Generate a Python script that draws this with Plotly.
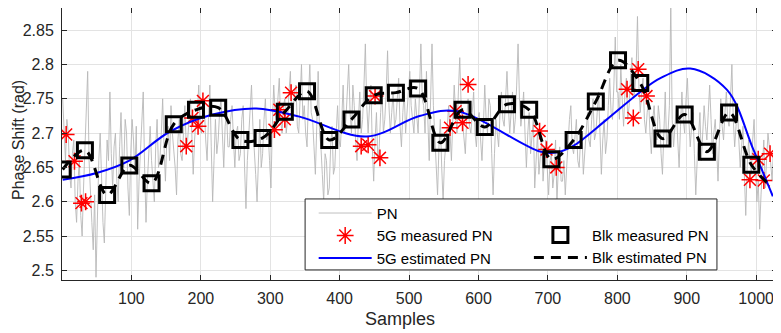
import plotly.graph_objects as go

# gray PN trace, every 2nd sample
pn_x = list(range(1, 1026, 2))
pn_y = [
    2.75, 2.70, 2.66, 2.72, 2.70, 2.64, 2.62, 2.67, 2.69, 2.60, 2.57, 2.63, 2.66, 2.58, 2.55, 2.62, 2.68, 2.71, 2.79, 2.66,
    2.60, 2.57, 2.53, 2.61, 2.49, 2.58, 2.66, 2.70, 2.62, 2.57, 2.54, 2.64, 2.69, 2.66, 2.76, 2.67, 2.62, 2.68, 2.70, 2.63,
    2.60, 2.68, 2.73, 2.66, 2.65, 2.72, 2.70, 2.62, 2.58, 2.67, 2.72, 2.69, 2.64, 2.71, 2.56, 2.63, 2.68, 2.72, 2.76, 2.65,
    2.57, 2.63, 2.68, 2.71, 2.66, 2.62, 2.60, 2.68, 2.72, 2.65, 2.66, 2.70, 2.75, 2.68, 2.63, 2.69, 2.71, 2.66, 2.74, 2.70,
    2.68, 2.65, 2.61, 2.69, 2.72, 2.67, 2.66, 2.71, 2.74, 2.68, 2.69, 2.72, 2.75, 2.70, 2.64, 2.69, 2.72, 2.73, 2.77, 2.71,
    2.70, 2.73, 2.74, 2.69, 2.66, 2.72, 2.77, 2.68, 2.60, 2.66, 2.72, 2.67, 2.69, 2.73, 2.75, 2.70, 2.65, 2.71, 2.73, 2.68,
    2.68, 2.72, 2.74, 2.69, 2.65, 2.70, 2.71, 2.66, 2.67, 2.72, 2.74, 2.65, 2.59, 2.66, 2.70, 2.74, 2.77, 2.71, 2.68, 2.64,
    2.60, 2.67, 2.72, 2.65, 2.67, 2.72, 2.75, 2.69, 2.70, 2.66, 2.62, 2.71, 2.77, 2.73, 2.71, 2.75, 2.78, 2.72, 2.70, 2.74,
    2.75, 2.70, 2.72, 2.76, 2.79, 2.72, 2.73, 2.76, 2.77, 2.71, 2.70, 2.75, 2.80, 2.72, 2.74, 2.70, 2.68, 2.75, 2.80, 2.73,
    2.72, 2.68, 2.64, 2.71, 2.79, 2.70, 2.68, 2.64, 2.60, 2.67, 2.66, 2.61, 2.62, 2.68, 2.71, 2.64, 2.65, 2.70, 2.74, 2.69,
    2.68, 2.72, 2.77, 2.70, 2.72, 2.76, 2.80, 2.73, 2.70, 2.77, 2.74, 2.69, 2.66, 2.72, 2.76, 2.70, 2.72, 2.77, 2.83, 2.74,
    2.70, 2.74, 2.77, 2.68, 2.63, 2.69, 2.73, 2.66, 2.68, 2.73, 2.76, 2.70, 2.72, 2.76, 2.82, 2.74, 2.70, 2.73, 2.76, 2.71,
    2.72, 2.75, 2.78, 2.71, 2.68, 2.73, 2.76, 2.70, 2.73, 2.77, 2.79, 2.74, 2.72, 2.70, 2.75, 2.73, 2.70, 2.76, 2.83, 2.75,
    2.74, 2.70, 2.79, 2.72, 2.66, 2.75, 2.83, 2.74, 2.70, 2.66, 2.61, 2.68, 2.72, 2.65, 2.60, 2.66, 2.68, 2.71, 2.74, 2.69,
    2.66, 2.72, 2.77, 2.73, 2.70, 2.76, 2.81, 2.74, 2.72, 2.69, 2.67, 2.72, 2.75, 2.71, 2.70, 2.73, 2.76, 2.70, 2.68, 2.72,
    2.73, 2.69, 2.66, 2.71, 2.77, 2.72, 2.70, 2.75, 2.74, 2.67, 2.61, 2.67, 2.72, 2.70, 2.68, 2.73, 2.76, 2.72, 2.71, 2.75,
    2.79, 2.74, 2.70, 2.73, 2.76, 2.70, 2.72, 2.77, 2.83, 2.75, 2.71, 2.73, 2.76, 2.70, 2.65, 2.70, 2.73, 2.67, 2.69, 2.72,
    2.62, 2.67, 2.70, 2.64, 2.66, 2.69, 2.63, 2.67, 2.69, 2.65, 2.61, 2.66, 2.67, 2.62, 2.64, 2.69, 2.60, 2.65, 2.68, 2.63,
    2.63, 2.66, 2.61, 2.65, 2.69, 2.72, 2.74, 2.68, 2.67, 2.70, 2.72, 2.66, 2.65, 2.69, 2.70, 2.64, 2.67, 2.71, 2.73, 2.69,
    2.68, 2.72, 2.75, 2.69, 2.70, 2.73, 2.76, 2.70, 2.64, 2.69, 2.72, 2.67, 2.69, 2.74, 2.78, 2.73, 2.72, 2.77, 2.84, 2.76,
    2.76, 2.72, 2.80, 2.75, 2.71, 2.76, 2.78, 2.72, 2.74, 2.78, 2.81, 2.75, 2.76, 2.79, 2.87, 2.77, 2.73, 2.76, 2.78, 2.72,
    2.70, 2.73, 2.75, 2.70, 2.67, 2.72, 2.74, 2.70, 2.69, 2.74, 2.72, 2.67, 2.64, 2.70, 2.76, 2.68, 2.70, 2.74, 2.89, 2.72,
    2.68, 2.71, 2.74, 2.69, 2.65, 2.71, 2.76, 2.72, 2.70, 2.75, 2.78, 2.72, 2.68, 2.71, 2.73, 2.67, 2.61, 2.66, 2.70, 2.73,
    2.66, 2.70, 2.74, 2.71, 2.69, 2.73, 2.77, 2.72, 2.67, 2.70, 2.72, 2.68, 2.63, 2.69, 2.75, 2.71, 2.69, 2.73, 2.76, 2.72,
    2.71, 2.75, 2.80, 2.72, 2.68, 2.71, 2.74, 2.69, 2.65, 2.68, 2.71, 2.64, 2.58, 2.65, 2.69, 2.66, 2.64, 2.69, 2.72, 2.66,
    2.60, 2.63, 2.56, 2.61, 2.66, 2.69, 2.62, 2.66, 2.70, 2.68, 2.65, 2.63, 2.68,
]

# 5G measured PN (red stars)
g5_meas_x = [6, 18, 28, 34, 179, 188, 196, 203, 306, 313, 321, 330,
             431, 441, 451, 458, 559, 567, 577, 585, 688, 698, 712,
             814, 823, 830, 842, 991, 1003, 1011, 1020]
g5_meas_y = [2.698, 2.659, 2.598, 2.600, 2.681, 2.722, 2.710, 2.747,
             2.705, 2.734, 2.720, 2.759, 2.681, 2.683, 2.754, 2.664,
             2.708, 2.732, 2.715, 2.771, 2.703, 2.676, 2.650,
             2.764, 2.722, 2.793, 2.754, 2.632, 2.662, 2.631, 2.670]

# 5G estimated PN (blue curve)
g5_est_x = [1, 50, 97, 155, 217, 280, 342, 439, 515, 569, 689, 713, 736,
            785, 833, 862, 905, 958, 996, 1024]
g5_est_y = [2.632, 2.642, 2.660, 2.702, 2.727, 2.736, 2.724, 2.695, 2.725,
            2.732, 2.673, 2.672, 2.681, 2.720, 2.760, 2.780, 2.794,
            2.763, 2.676, 2.608]

# Blk measured PN (black squares)
blk_x = [1, 33, 65, 97, 129, 161, 193, 225, 257, 289, 321, 353, 385,
         417, 449, 481, 513, 545, 577, 609, 641, 673, 705, 737, 769,
         801, 833, 865, 897, 929, 961, 993]
blk_y = [2.647, 2.675, 2.610, 2.653, 2.627, 2.713, 2.734, 2.737, 2.690,
         2.693, 2.731, 2.761, 2.690, 2.720, 2.755, 2.759, 2.765, 2.686,
         2.734, 2.709, 2.742, 2.734, 2.662, 2.690, 2.746, 2.806, 2.773,
         2.692, 2.727, 2.673, 2.730, 2.654]

# Blk estimated PN (dashed), runs on to the last sample
blk_est_x = blk_x + [1022]
blk_est_y = blk_y + [2.622]

x_ticks = [100, 200, 300, 400, 500, 600, 700, 800, 900, 1000]
y_ticks = [2.5, 2.55, 2.6, 2.65, 2.7, 2.75, 2.8, 2.85]
y_ticktext = ['2.5', '2.55', '2.6', '2.65', '2.7', '2.75', '2.8', '2.85']

font = 'Liberation Sans, Arial, sans-serif'
ink = '#262626'

fig = go.Figure()

fig.add_trace(go.Scatter(x=pn_x, y=pn_y, mode='lines', name='PN',
                         line=dict(color='#b8b8b8', width=0.9), legend='legend'))
fig.add_trace(go.Scatter(x=g5_meas_x, y=g5_meas_y, mode='markers', name='5G measured PN',
                         marker=dict(symbol='asterisk-open', size=14, color='red',
                                     line=dict(color='red', width=1.5)),
                         legend='legend'))
fig.add_trace(go.Scatter(x=g5_est_x, y=g5_est_y, mode='lines', name='5G estimated PN',
                         line=dict(color='#0000ff', width=2, shape='spline', smoothing=1.0),
                         legend='legend'))
fig.add_trace(go.Scatter(x=blk_est_x, y=blk_est_y, mode='lines', name='Blk estimated PN',
                         line=dict(color='black', width=3, dash='10px,7px',
                                   shape='spline', smoothing=1.0),
                         legend='legend2', legendrank=2))
fig.add_trace(go.Scatter(x=blk_x, y=blk_y, mode='markers', name='Blk measured PN',
                         marker=dict(symbol='square-open', size=15, color='black',
                                     line=dict(color='black', width=3)),
                         legend='legend2', legendrank=1))

# legend box (white, covers the data like in MATLAB)
fig.add_shape(type='rect', xref='paper', yref='paper',
              x0=0.340, x1=0.916, y0=0.037, y1=0.298,
              fillcolor='white', line=dict(color=ink, width=1), layer='above')

# axis titles as annotations so they sit exactly where the reference has them
fig.add_annotation(text='Phase Shift (rad)', xref='paper', yref='paper',
                   x=-0.0601, y=0.515, xanchor='center', yanchor='middle',
                   textangle=-90, showarrow=False, font=dict(size=16, color=ink))
fig.add_annotation(text='Samples', xref='paper', yref='paper',
                   x=0.473, y=-0.143, xanchor='center', yanchor='middle',
                   showarrow=False, font=dict(size=18, color=ink))

leg = dict(xanchor='left', yanchor='top', bgcolor='rgba(0,0,0,0)', borderwidth=0,
           font=dict(size=15, color='black'), itemwidth=53,
           tracegroupgap=0, traceorder='normal')

# the page body adds an 8px offset, so the figure is 8px smaller than the window
fig.update_layout(
    width=773, height=325,
    margin=dict(l=54, r=4, t=0, b=53),
    paper_bgcolor='white', plot_bgcolor='white',
    font=dict(family=font, size=16, color=ink),
    showlegend=True,
    legend=dict(x=0.352, y=0.306, **leg),
    legend2=dict(x=0.653, y=0.225, **leg),
    xaxis=dict(range=[0, 1030], tickvals=x_ticks, showgrid=True,
               gridcolor='#e3e3e3', gridwidth=1, zeroline=False,
               showline=True, linecolor=ink, linewidth=1, mirror='ticks',
               ticks='inside', ticklen=5, tickcolor=ink, automargin=False,
               ticklabelstandoff=4, tickfont=dict(size=16, color=ink)),
    yaxis=dict(range=[2.486, 2.8823], tickvals=y_ticks, ticktext=y_ticktext,
               showgrid=True, gridcolor='#e3e3e3', gridwidth=1, zeroline=False,
               showline=True, linecolor=ink, linewidth=1, mirror='ticks',
               ticks='inside', ticklen=5, tickcolor=ink, automargin=False,
               ticklabelstandoff=4, tickfont=dict(size=16, color=ink)),
)

fig.write_html("out.html")
